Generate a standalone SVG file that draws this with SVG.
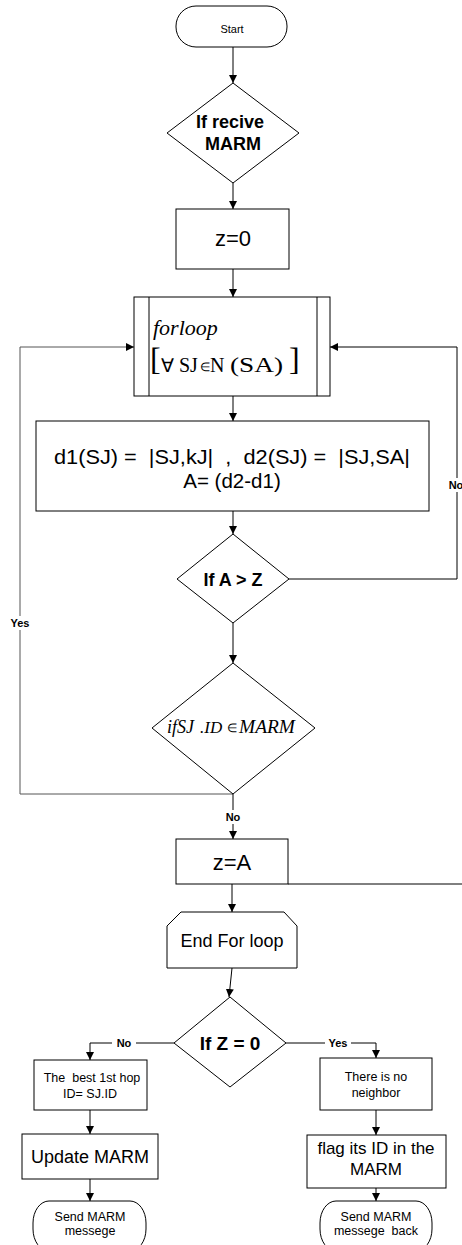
<svg xmlns="http://www.w3.org/2000/svg" width="462" height="1245" viewBox="0 0 462 1245">
<style>
.s{fill:#fff;stroke:#000;stroke-width:1}
.c{fill:none;stroke:#000;stroke-width:1}
.t{font-family:"Liberation Sans",Arial,sans-serif;fill:#000;text-anchor:middle}
.ts{font-family:"Liberation Sans",Arial,sans-serif;fill:#000;text-anchor:start}
.b{font-weight:bold}
.i{font-family:"Liberation Serif","Times New Roman",serif;font-style:italic;fill:#000}
.m{font-family:"Liberation Serif","Times New Roman",serif;fill:#000}
.lbl{font-family:"Liberation Sans",Arial,sans-serif;font-weight:bold;font-size:11px;fill:#000;text-anchor:middle}
</style>
<defs>
<marker id="ah" viewBox="0 0 10 10" refX="10" refY="5" markerWidth="8" markerHeight="8" markerUnits="userSpaceOnUse" orient="auto">
<path d="M0,0 L10,5 L0,10 Z" fill="#000"/>
</marker>
</defs>
<rect width="462" height="1245" fill="#fff"/>
<g id="connectors">
<line class="c" x1="233" y1="47" x2="233" y2="83" marker-end="url(#ah)"/>
<line class="c" x1="233" y1="183" x2="233" y2="209" marker-end="url(#ah)"/>
<line class="c" x1="233" y1="269" x2="233" y2="297" marker-end="url(#ah)"/>
<line class="c" x1="233" y1="396" x2="233" y2="421" marker-end="url(#ah)"/>
<line class="c" x1="233" y1="511" x2="233" y2="534" marker-end="url(#ah)"/>
<line class="c" x1="233" y1="623" x2="233" y2="663" marker-end="url(#ah)"/>
<polyline class="c" points="289,579 457,579 457,347 330,347" marker-end="url(#ah)"/>
<rect x="446" y="478" width="16" height="14" fill="#fff"/>
<text class="lbl" x="456" y="489">No</text>
<polyline class="c" style="stroke:#555" points="233,794 20,794 20,347 134,347" marker-end="url(#ah)"/>
<rect x="8" y="616" width="26" height="14" fill="#fff"/>
<text class="lbl" x="20" y="627">Yes</text>
<line class="c" x1="233" y1="794" x2="233" y2="839" marker-end="url(#ah)"/>
<rect x="222" y="810" width="22" height="14" fill="#fff"/>
<text class="lbl" x="233" y="821">No</text>
<line class="c" x1="288" y1="884" x2="462" y2="884"/>
<line class="c" x1="232" y1="884" x2="232" y2="912" marker-end="url(#ah)"/>
<line class="c" x1="232" y1="968" x2="229" y2="997" marker-end="url(#ah)"/>
<polyline class="c" points="174,1043 90,1043 90,1060" marker-end="url(#ah)"/>
<rect x="112" y="1036" width="24" height="14" fill="#fff"/>
<text class="lbl" x="124" y="1047">No</text>
<polyline class="c" points="286,1043 376,1043 376,1058" marker-end="url(#ah)"/>
<rect x="325" y="1036" width="26" height="14" fill="#fff"/>
<text class="lbl" x="338" y="1047">Yes</text>
<line class="c" x1="90" y1="1110" x2="90" y2="1134" marker-end="url(#ah)"/>
<line class="c" x1="90" y1="1179" x2="90" y2="1201" marker-end="url(#ah)"/>
<line class="c" x1="376" y1="1110" x2="376" y2="1135" marker-end="url(#ah)"/>
<line class="c" x1="376" y1="1188" x2="376" y2="1201" marker-end="url(#ah)"/>
</g>
<g id="start">
<rect class="s" x="176" y="6" width="111" height="41" rx="20"/>
<text class="t" x="232" y="33" font-size="11">Start</text>
</g>
<g id="recive">
<polygon class="s" points="233,83 299,133 233,183 167,133"/>
<text class="t b" x="230" y="128" font-size="18">If recive</text>
<text class="t b" x="233" y="150" font-size="18">MARM</text>
</g>
<g id="z0">
<rect class="s" x="176" y="209" width="113" height="60"/>
<text class="t" x="233" y="246" font-size="22">z=0</text>
</g>
<g id="forloop">
<rect class="s" x="134" y="297" width="196" height="99"/>
<line class="c" x1="149" y1="297" x2="149" y2="396"/>
<line class="c" x1="317" y1="297" x2="317" y2="396"/>
<text class="i" x="153" y="335" font-size="22">forloop</text>
<text class="m" x="150" y="370" font-size="32">[</text>
<text class="m" x="161" y="372" font-size="19">∀</text>
<text class="m" x="179" y="372" font-size="20">SJ</text>
<text class="m" x="200" y="371" font-size="12">∈</text>
<text class="m" x="210" y="372" font-size="20">N</text>
<text class="m" x="230" y="372" font-size="22" textLength="53" lengthAdjust="spacingAndGlyphs">(SA)</text>
<text class="m" x="289" y="370" font-size="32">]</text>
</g>
<g id="dist">
<rect class="s" x="36" y="421" width="393" height="90"/>
<text class="ts" x="54" y="464" font-size="20" textLength="356" lengthAdjust="spacingAndGlyphs" xml:space="preserve">d1(SJ) =  |SJ,kJ|  ,  d2(SJ) =  |SJ,SA|</text>
<text class="t" x="232" y="488" font-size="20.5">A= (d2-d1)</text>
</g>
<g id="agtz">
<polygon class="s" points="233,534 289,579 233,623 177,579"/>
<text class="t b" x="233" y="586" font-size="18">If A &gt; Z</text>
</g>
<g id="ifsj">
<polygon class="s" points="233,663 315,728 233,794 152,728"/>
<text class="i" x="167" y="733" font-size="18">ifSJ</text>
<text class="i" x="200" y="733" font-size="17">.ID</text>
<text class="m" x="227" y="732" font-size="12">∈</text>
<text class="i" x="239" y="733" font-size="18" textLength="56" lengthAdjust="spacingAndGlyphs">MARM</text>
</g>
<g id="za">
<rect class="s" x="176" y="839" width="112" height="45"/>
<text class="t" x="232" y="870" font-size="22">z=A</text>
</g>
<g id="endfor">
<polygon class="s" points="181,912 284,912 297,926 297,968 167,968 167,926"/>
<text class="t" x="232" y="947" font-size="18">End For loop</text>
</g>
<g id="z0check">
<polygon class="s" points="230,997 286,1043 230,1087 174,1043"/>
<text class="t b" x="230" y="1050" font-size="19">If Z = 0</text>
</g>
<g id="besthop">
<rect class="s" x="34" y="1060" width="113" height="50"/>
<text class="t" x="92" y="1082" font-size="12.5" xml:space="preserve">The  best 1st hop</text>
<text class="t" x="90" y="1098" font-size="12.5">ID= SJ.ID</text>
</g>
<g id="update">
<rect class="s" x="22" y="1134" width="136" height="45"/>
<text class="t" x="90" y="1163" font-size="18">Update MARM</text>
</g>
<g id="send1">
<rect class="s" x="33" y="1201" width="113" height="50" rx="16" ry="22"/>
<text class="t" x="90" y="1221" font-size="12.5">Send MARM</text>
<text class="t" x="90" y="1235" font-size="12.5">messege</text>
</g>
<g id="noneighbor">
<rect class="s" x="320" y="1058" width="112" height="52"/>
<text class="t" x="376" y="1081" font-size="12.5">There is no</text>
<text class="t" x="376" y="1097" font-size="12.5">neighbor</text>
</g>
<g id="flag">
<rect class="s" x="307" y="1135" width="139" height="53"/>
<text class="t" x="376" y="1154" font-size="17">flag its ID in the</text>
<text class="t" x="376" y="1175" font-size="17">MARM</text>
</g>
<g id="send2">
<rect class="s" x="320" y="1201" width="112" height="50" rx="16" ry="22"/>
<text class="t" x="376" y="1221" font-size="12.5">Send MARM</text>
<text class="t" x="376" y="1235" font-size="12.5" xml:space="preserve">messege  back</text>
</g>
</svg>
